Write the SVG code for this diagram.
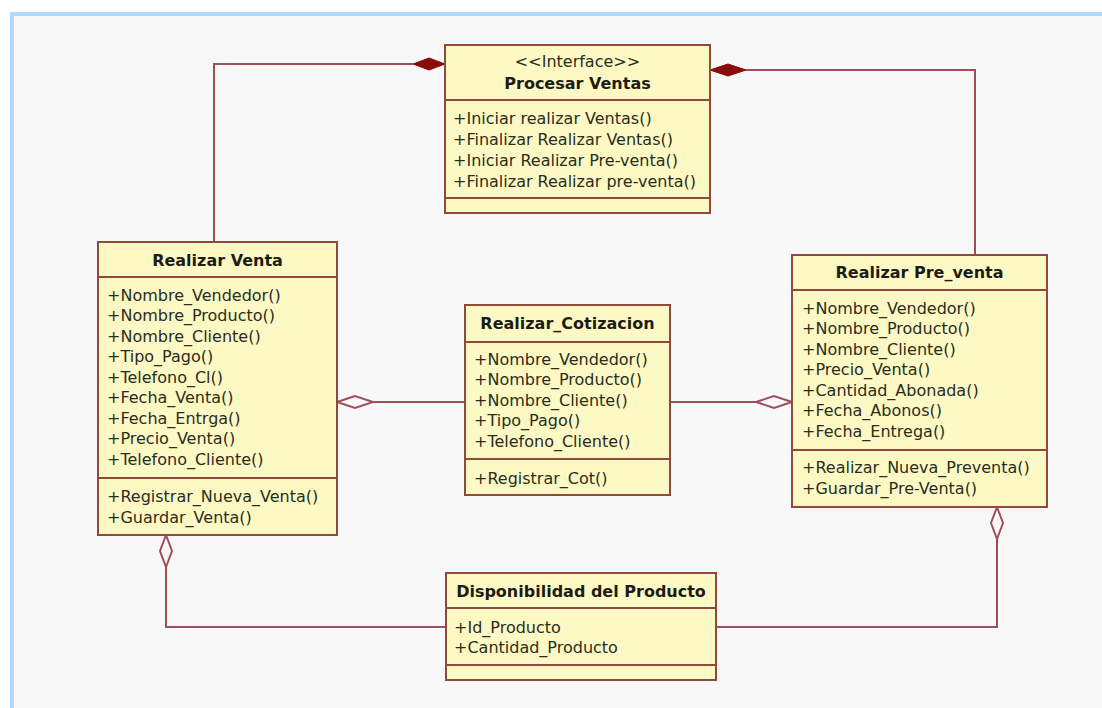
<svg xmlns="http://www.w3.org/2000/svg" width="1102" height="708" viewBox="0 0 1102 708">
<style>
.box{fill:#fdf9c4;stroke:#8e4a3c;stroke-width:2}
.sep{stroke:#8e4a3c;stroke-width:2}
.t{font-family:"DejaVu Sans",Verdana,sans-serif;font-size:16px;fill:#2a2d1c}
.b{font-family:"DejaVu Sans",Verdana,sans-serif;font-size:16px;font-weight:bold;fill:#1c1c14;text-anchor:middle}
.c{font-family:"DejaVu Sans",Verdana,sans-serif;font-size:16px;fill:#2a2d1c;text-anchor:middle}
.ln{fill:none;stroke:#9c4f5a;stroke-width:2}
.fd{fill:#8b0a0a;stroke:#8b0a0a;stroke-width:1}
.hd{fill:#fbf7f9;stroke:#9c4f5a;stroke-width:2}
</style>
<rect x="0" y="0" width="1102" height="708" fill="#ffffff"/>
<rect x="12" y="14" width="1090" height="694" fill="#f8f8f8"/>
<rect x="10" y="12" width="1092" height="4" fill="#b2d8fc"/>
<rect x="10" y="12" width="4" height="696" fill="#b2d8fc"/>

<g id="connectors">
<polyline class="ln" points="413,64 214,64 214,242"/>
<polygon class="fd" points="445,64 429,58 413,64 429,70"/>
<polyline class="ln" points="746,70 975,70 975,255"/>
<polygon class="fd" points="710,70 728,64 746,70 728,76"/>
<line class="ln" x1="373" y1="402" x2="465" y2="402"/>
<polygon class="hd" points="337,402 355,396 373,402 355,408"/>
<line class="ln" x1="670" y1="402" x2="756" y2="402"/>
<polygon class="hd" points="792,402 774,396 756,402 774,408"/>
<polyline class="ln" points="166,567 166,627 446,627"/>
<polygon class="hd" points="166,535 172,551 166,567 160,551"/>
<polyline class="ln" points="997,539 997,627 716,627"/>
<polygon class="hd" points="997,507 1003,523 997,539 991,523"/>
</g>

<g id="procesar-ventas">
<rect class="box" x="445" y="45" width="265" height="168"/>
<line class="sep" x1="445" y1="100" x2="710" y2="100"/>
<line class="sep" x1="445" y1="198" x2="710" y2="198"/>
<text class="c" x="577.5" y="67">&lt;&lt;Interface&gt;&gt;</text>
<text class="b" x="577.5" y="89">Procesar Ventas</text>
<text class="t" x="453" y="124">+Iniciar realizar Ventas()</text>
<text class="t" x="453" y="145">+Finalizar Realizar Ventas()</text>
<text class="t" x="453" y="166">+Iniciar Realizar Pre-venta()</text>
<text class="t" x="453" y="187">+Finalizar Realizar pre-venta()</text>
</g>

<g id="realizar-venta">
<rect class="box" x="98" y="242" width="239" height="293"/>
<line class="sep" x1="98" y1="277" x2="337" y2="277"/>
<line class="sep" x1="98" y1="478" x2="337" y2="478"/>
<text class="b" x="217.5" y="266">Realizar Venta</text>
<text class="t" x="107" y="300.5">+Nombre_Vendedor()</text>
<text class="t" x="107" y="321">+Nombre_Producto()</text>
<text class="t" x="107" y="341.5">+Nombre_Cliente()</text>
<text class="t" x="107" y="362">+Tipo_Pago()</text>
<text class="t" x="107" y="382.5">+Telefono_Cl()</text>
<text class="t" x="107" y="403">+Fecha_Venta()</text>
<text class="t" x="107" y="423.5">+Fecha_Entrga()</text>
<text class="t" x="107" y="444">+Precio_Venta()</text>
<text class="t" x="107" y="464.5">+Telefono_Cliente()</text>
<text class="t" x="107" y="502">+Registrar_Nueva_Venta()</text>
<text class="t" x="107" y="522.5">+Guardar_Venta()</text>
</g>

<g id="realizar-cotizacion">
<rect class="box" x="465" y="305" width="205" height="190"/>
<line class="sep" x1="465" y1="342" x2="670" y2="342"/>
<line class="sep" x1="465" y1="459" x2="670" y2="459"/>
<text class="b" x="567.5" y="329">Realizar_Cotizacion</text>
<text class="t" x="474" y="364.5">+Nombre_Vendedor()</text>
<text class="t" x="474" y="385">+Nombre_Producto()</text>
<text class="t" x="474" y="405.5">+Nombre_Cliente()</text>
<text class="t" x="474" y="426">+Tipo_Pago()</text>
<text class="t" x="474" y="446.5">+Telefono_Cliente()</text>
<text class="t" x="474" y="483.5">+Registrar_Cot()</text>
</g>

<g id="realizar-pre-venta">
<rect class="box" x="792" y="255" width="255" height="252"/>
<line class="sep" x1="792" y1="290" x2="1047" y2="290"/>
<line class="sep" x1="792" y1="450" x2="1047" y2="450"/>
<text class="b" x="919.5" y="278">Realizar Pre_venta</text>
<text class="t" x="802" y="313.5">+Nombre_Vendedor()</text>
<text class="t" x="802" y="334">+Nombre_Producto()</text>
<text class="t" x="802" y="354.5">+Nombre_Cliente()</text>
<text class="t" x="802" y="375">+Precio_Venta()</text>
<text class="t" x="802" y="395.5">+Cantidad_Abonada()</text>
<text class="t" x="802" y="416">+Fecha_Abonos()</text>
<text class="t" x="802" y="436.5">+Fecha_Entrega()</text>
<text class="t" x="802" y="473">+Realizar_Nueva_Preventa()</text>
<text class="t" x="802" y="493.5">+Guardar_Pre-Venta()</text>
</g>

<g id="disponibilidad-producto">
<rect class="box" x="446" y="573" width="270" height="107"/>
<line class="sep" x1="446" y1="608" x2="716" y2="608"/>
<line class="sep" x1="446" y1="665" x2="716" y2="665"/>
<text class="b" x="581" y="597">Disponibilidad del Producto</text>
<text class="t" x="454" y="632.5">+Id_Producto</text>
<text class="t" x="454" y="653">+Cantidad_Producto</text>
</g>
</svg>
